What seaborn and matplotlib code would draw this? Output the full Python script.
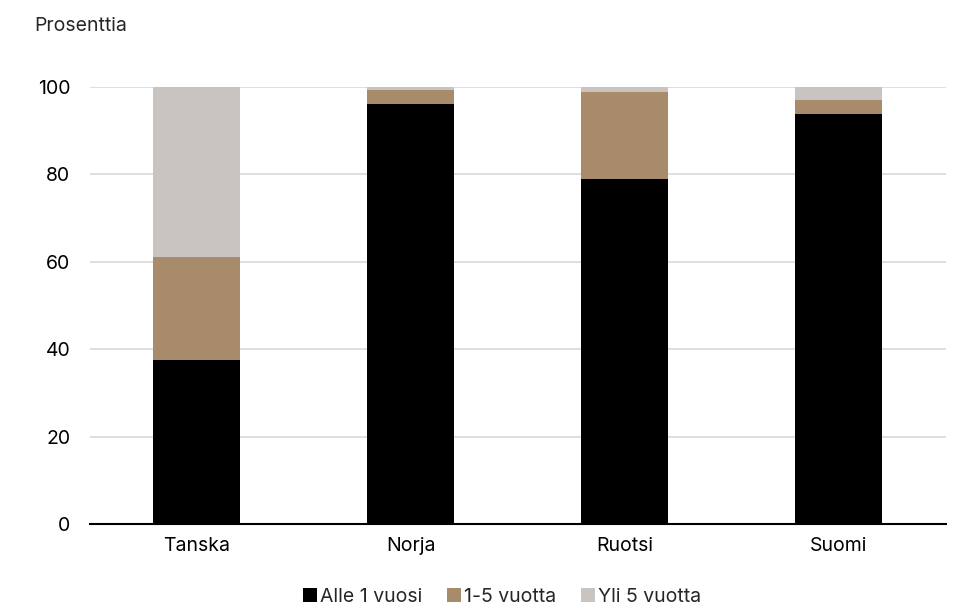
import numpy as np
import pandas as pd
import matplotlib.pyplot as plt
import seaborn as sns

countries = ["Tanska", "Norja", "Ruotsi", "Suomi"]
under_1 = [37.6, 96.1, 78.9, 93.9]
years_1_5 = [23.4, 3.3, 20.0, 3.1]
over_5 = [39.0, 0.6, 1.1, 3.0]
series_names = ["Alle 1 vuosi", "1-5 vuotta", "Yli 5 vuotta"]
colors = ["#000000", "#A88B6A", "#C9C4BF"]


def main():
    sns.set_theme(style="white")
    plt.rcParams['font.family'] = ['Inter', 'DejaVu Sans']

    fig = plt.figure(figsize=(9.64, 6.08), dpi=100)
    ax = fig.add_axes([0.093, 0.138, 0.888, 0.719])

    # stacked bars: draw cumulative totals from the top down
    cum = np.cumsum([under_1, years_1_5, over_5], axis=0)
    for i in reversed(range(3)):
        df = pd.DataFrame({"maa": countries, "arvo": cum[i]})
        sns.barplot(data=df, x="maa", y="arvo", color=colors[i], width=0.405,
                    saturation=1, ax=ax, zorder=2, label=series_names[i],
                    edgecolor="none", linewidth=0)

    ax.set_ylim(0, 100)
    ax.set_yticks([0, 20, 40, 60, 80, 100])
    ax.yaxis.grid(True, color="#D9D9D9", linewidth=1.2, zorder=0)
    ax.set_axisbelow(True)
    for s in ["top", "right", "left"]:
        ax.spines[s].set_visible(False)
    ax.spines["bottom"].set_color("black")
    ax.spines["bottom"].set_linewidth(1.5)
    ax.spines["bottom"].set_zorder(5)
    ax.tick_params(axis="both", length=0, labelsize=14, colors="black")
    ax.tick_params(axis="y", pad=14)
    ax.tick_params(axis="x", pad=9)
    ax.set_xlabel("")
    ax.set_ylabel("")

    fig.text(0.036, 0.958, "Prosenttia", fontsize=14, va="center")

    handles, labels = ax.get_legend_handles_labels()
    order = [labels.index(n) for n in series_names]
    ax.legend([handles[k] for k in order], [labels[k] for k in order],
              loc="center", bbox_to_anchor=(0.482, -0.166), ncol=3, frameon=False,
              fontsize=14, handlelength=0.7, handleheight=0.7,
              handletextpad=0.15, columnspacing=1.3)

    fig.savefig("out.png", dpi=100)


if __name__ == "__main__":
    main()
